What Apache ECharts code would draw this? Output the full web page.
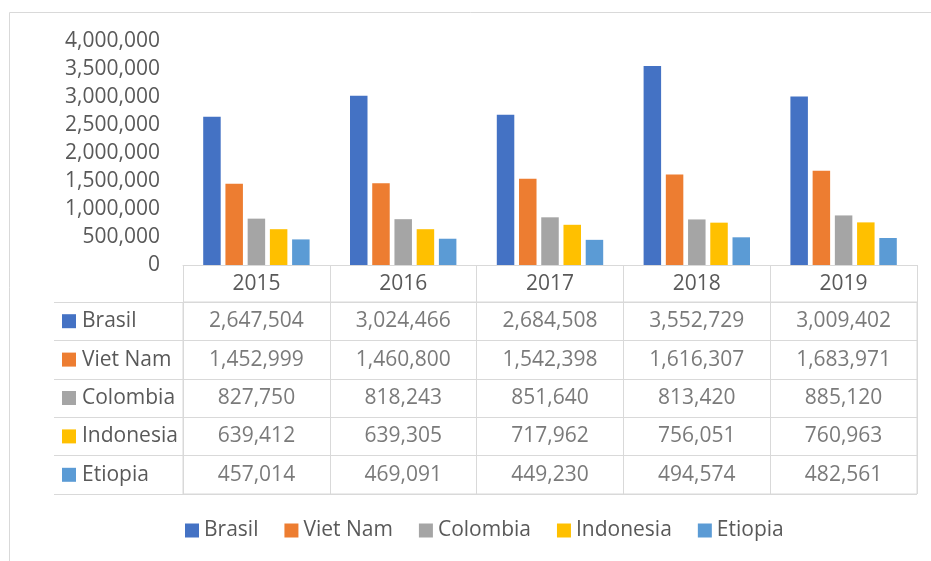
<!DOCTYPE html>
<html>
<head>
<meta charset="utf-8">
<script src="https://cdn.jsdelivr.net/npm/echarts@6/dist/echarts.min.js"></script>
<style>html,body{margin:0;padding:0;background:#fff}#c{width:931px;height:561px}</style>
</head>
<body>
<div id="c"></div>
<script>
const years = ['2015', '2016', '2017', '2018', '2019'];
const countries = ['Brasil', 'Viet Nam', 'Colombia', 'Indonesia', 'Etiopia'];
const colors = ['#4472C4', '#ED7D31', '#A5A5A5', '#FFC000', '#5B9BD5'];
const brasil = [2647504, 3024466, 2684508, 3552729, 3009402];
const vietNam = [1452999, 1460800, 1542398, 1616307, 1683971];
const colombia = [827750, 818243, 851640, 813420, 885120];
const indonesia = [639412, 639305, 717962, 756051, 760963];
const etiopia = [457014, 469091, 449230, 494574, 482561];
const yTicks = [0, 500000, 1000000, 1500000, 2000000, 2500000, 3000000, 3500000, 4000000];

const values = [brasil, vietNam, colombia, indonesia, etiopia];
const fmt = v => Number(v).toLocaleString('en-US');
const FONT = "'Open Sans', 'Noto Sans', sans-serif";
const TXT = '#595959';
const LINE = '#d9d9d9';

const rich = { t: { fontSize: 21, color: TXT, fontFamily: FONT, padding: [0, 0, 0, 6] } };
countries.forEach((c, i) => {
  rich['s' + i] = { backgroundColor: colors[i], width: 14, height: 14 };
});

const barSeries = countries.map((c, i) => ({
  name: c,
  type: 'bar',
  xAxisIndex: 0,
  yAxisIndex: 0,
  data: values[i],
  barWidth: 17.5,
  barGap: '27%',
  itemStyle: { color: colors[i] }
}));

const cellData = [];
countries.forEach((c, i) => {
  years.forEach((y, j) => cellData.push([y, c, values[i][j]]));
});

const chart = echarts.init(document.getElementById('c'), null, { renderer: 'canvas' });
chart.setOption({
  animation: false,
  textStyle: { fontFamily: FONT },
  graphic: [{
    type: 'rect', shape: { x: 9.5, y: 12.5, width: 940, height: 560 },
    style: { fill: 'none', stroke: LINE, lineWidth: 1 }, silent: true
  }],
  legend: {
    data: countries,
    left: 185, top: 520, padding: 0,
    itemWidth: 14, itemHeight: 14, itemGap: 26,
    icon: 'rect',
    textStyle: { fontSize: 21, color: TXT, fontFamily: FONT }
  },
  grid: [
    { left: 183, right: 14, top: 41, bottom: 296 },
    { left: 183, right: 14, top: 302, bottom: 67, show: true, borderColor: LINE, borderWidth: 1 }
  ],
  xAxis: [
    {
      gridIndex: 0, type: 'category', data: years,
      axisLine: { lineStyle: { color: LINE } },
      axisTick: { show: true, length: 37, interval: 0, lineStyle: { color: LINE } },
      axisLabel: { fontSize: 21, color: TXT, margin: 9, fontFamily: FONT }
    },
    {
      gridIndex: 1, type: 'category', data: years,
      axisLine: { show: false }, axisTick: { show: false }, axisLabel: { show: false },
      splitLine: { show: true, interval: 0, lineStyle: { color: LINE } }
    }
  ],
  yAxis: [
    {
      gridIndex: 0, type: 'value', min: 0, max: 4000000, interval: 500000,
      axisLine: { show: false }, axisTick: { show: false }, splitLine: { show: false },
      axisLabel: { fontSize: 21, color: TXT, margin: 23, fontFamily: FONT, formatter: v => fmt(v) }
    },
    {
      gridIndex: 1, type: 'category', data: countries, inverse: true,
      axisLine: { show: false },
      axisTick: { show: true, length: 129, interval: 0, lineStyle: { color: LINE } },
      splitLine: { show: true, interval: 0, lineStyle: { color: LINE } },
      axisLabel: {
        align: 'left', margin: 121,
        formatter: (v, idx) => '{s' + countries.indexOf(v) + '|}{t|' + v + '}',
        rich: rich
      }
    },
    {
      gridIndex: 1, type: 'category', data: countries, inverse: true, offset: 129,
      axisLine: { show: true, lineStyle: { color: LINE } },
      axisTick: { show: false }, axisLabel: { show: false }, splitLine: { show: false }
    }
  ],
  series: barSeries.concat([{
    type: 'scatter',
    xAxisIndex: 1, yAxisIndex: 1,
    data: cellData,
    symbolSize: 1,
    itemStyle: { color: 'rgba(0,0,0,0)' },
    silent: true,
    label: {
      show: true, position: 'inside',
      fontSize: 21, color: TXT, fontFamily: FONT,
      formatter: p => fmt(p.value[2])
    }
  }])
});
</script>
</body>
</html>
